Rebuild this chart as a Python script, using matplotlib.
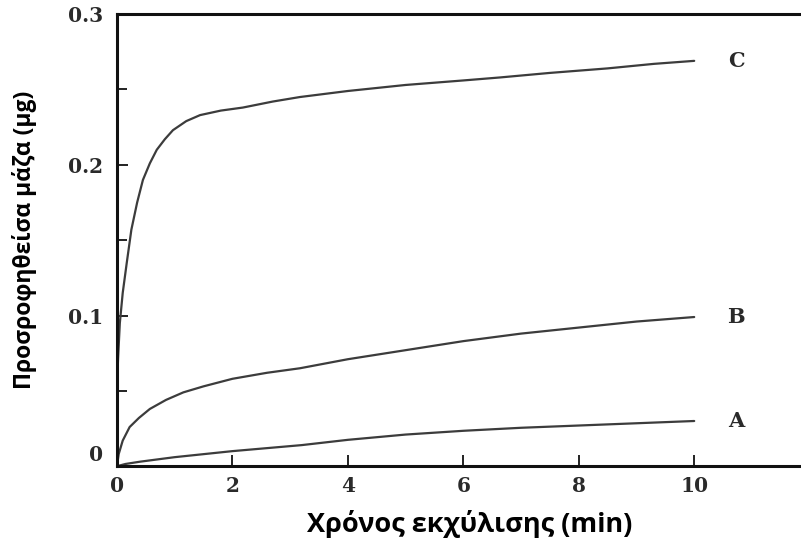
import matplotlib.pyplot as plt
from matplotlib.ticker import MultipleLocator
from matplotlib.transforms import ScaledTranslation

# Χρόνος εκχύλισης (min) και προσροφηθείσα μάζα (μg) για τις καμπύλες A, B, C
time_c = [0, 0.02, 0.05, 0.1, 0.17, 0.25, 0.35, 0.45, 0.57, 0.69, 0.83, 0.97, 1.2,
          1.44, 1.8, 2.18, 2.7, 3.17, 4.0, 5.0, 6.0, 6.64, 7.5, 8.5, 9.3, 10.0]
mass_c = [0.052, 0.072, 0.095, 0.115, 0.135, 0.157, 0.175, 0.19, 0.201, 0.21, 0.217,
          0.223, 0.229, 0.233, 0.236, 0.238, 0.242, 0.245, 0.249, 0.253, 0.256,
          0.258, 0.261, 0.264, 0.267, 0.269]

time_b = [0, 0.03, 0.1, 0.22, 0.38, 0.57, 0.85, 1.15, 1.5, 2.0, 2.6, 3.17, 4.0,
          5.0, 6.0, 7.0, 8.0, 9.0, 10.0]
mass_b = [0.0, 0.008, 0.017, 0.026, 0.032, 0.038, 0.044, 0.049, 0.053, 0.058,
          0.062, 0.065, 0.071, 0.077, 0.083, 0.088, 0.092, 0.096, 0.099]

time_a = [0, 0.15, 0.4, 1.0, 1.5, 2.0, 2.6, 3.2, 4.0, 5.0, 6.0, 7.0, 8.0, 9.0, 10.0]
mass_a = [0.0, 0.0015, 0.003, 0.006, 0.008, 0.010, 0.012, 0.014, 0.0175, 0.021,
          0.0235, 0.0255, 0.027, 0.0285, 0.030]

curve_labels = ["C", "B", "A"]
label_x = 10.73

fig = plt.figure(figsize=(8.01, 5.44), dpi=100)
ax = fig.add_axes([0.146, 0.143, 0.854, 0.831])

line_color = "#3c3c3c"
for t, m, lab in zip([time_c, time_b, time_a], [mass_c, mass_b, mass_a], curve_labels):
    ax.plot(t, m, color=line_color, lw=1.6, solid_capstyle="round")
    ax.text(label_x, m[-1], lab, fontsize=15, fontweight="bold",
            family="DejaVu Serif", va="center", ha="center", color="#2a2a2a")

ax.set_xlim(0, 11.85)
ax.set_ylim(0, 0.3)
ax.set_xticks([0, 2, 4, 6, 8, 10])
ax.set_yticks([0, 0.1, 0.2, 0.3])
ax.set_yticklabels(["0", "0.1", "0.2", "0.3"])
ax.yaxis.set_minor_locator(MultipleLocator(0.05))

ax.spines["right"].set_visible(False)
for s in ["left", "top", "bottom"]:
    ax.spines[s].set_linewidth(2.2)
    ax.spines[s].set_color("#111111")

ax.tick_params(which="both", direction="in", width=1.4, color="#222222")
ax.tick_params(which="major", length=8)
ax.tick_params(which="minor", length=7)
ax.tick_params(axis="y", pad=10)
ax.tick_params(axis="x", pad=7)
for lbl in ax.get_xticklabels() + ax.get_yticklabels():
    lbl.set_family("DejaVu Serif")
    lbl.set_fontweight("bold")
    lbl.set_fontsize(14.5)
    lbl.set_color("#2a2a2a")

# το "0" του άξονα y είναι λίγο πάνω από τον άξονα
zero_lbl = ax.get_yticklabels()[0]
zero_lbl.set_transform(zero_lbl.get_transform() + ScaledTranslation(0, 0.13, fig.dpi_scale_trans))

ax.set_xlabel("Χρόνος εκχύλισης (min)", fontsize=19.5, fontweight="bold",
              family="Open Sans", labelpad=10)
ax.xaxis.label.set_x(0.515)
ax.set_ylabel("Προσροφηθείσα μάζα (μg)", fontsize=16.5, fontweight="bold",
              family="Open Sans", labelpad=22)

fig.savefig("out.png", dpi=100)
